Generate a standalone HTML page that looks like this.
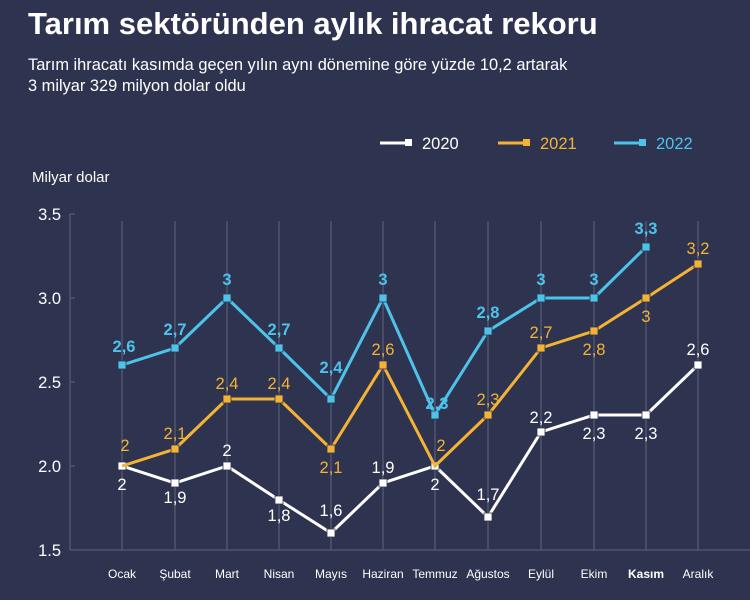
<!DOCTYPE html>
<html><head><meta charset="utf-8"><style>
body{margin:0;background:#2e3450;}
svg{display:block;font-family:"Liberation Sans",sans-serif;}
</style></head><body>
<svg width="750" height="600" xmlns="http://www.w3.org/2000/svg">
<rect width="750" height="600" fill="#2e3450"/>
<text x="28" y="34" fill="#fff" font-size="31" font-weight="bold">Tarım sektöründen aylık ihracat rekoru</text>
<text x="28" y="70" fill="#fff" font-size="16.4">Tarım ihracatı kasımda geçen yılın aynı dönemine göre yüzde 10,2 artarak</text>
<text x="28" y="91" fill="#fff" font-size="16.4">3 milyar 329 milyon dolar oldu</text>
<g font-size="16.5">
<line x1="380" y1="143" x2="406" y2="143" stroke="#fff" stroke-width="3"/><rect x="405" y="139" width="7" height="7" fill="#fff"/><text x="422" y="149" fill="#fff">2020</text>
<line x1="498" y1="143" x2="524" y2="143" stroke="#f5b335" stroke-width="3"/><rect x="523" y="139" width="7" height="7" fill="#f5b335"/><text x="540" y="149" fill="#f5b335">2021</text>
<line x1="614" y1="143" x2="640" y2="143" stroke="#4ec3ea" stroke-width="3"/><rect x="639" y="139" width="7" height="7" fill="#4ec3ea"/><text x="656" y="149" fill="#4ec3ea">2022</text>
</g>
<text x="32" y="182" fill="#fff" font-size="15">Milyar dolar</text>
<g stroke="#555b73" stroke-width="1.3">
<line x1="70" y1="214" x2="70" y2="550"/>
<line x1="70" y1="214" x2="75" y2="214"/><line x1="70" y1="298" x2="75" y2="298"/><line x1="70" y1="382" x2="75" y2="382"/><line x1="70" y1="466" x2="75" y2="466"/>
<line x1="70" y1="550" x2="750" y2="550"/>
<line x1="122" y1="221" x2="122" y2="550"/><line x1="175" y1="221" x2="175" y2="550"/><line x1="227" y1="221" x2="227" y2="550"/><line x1="279" y1="221" x2="279" y2="550"/><line x1="331" y1="221" x2="331" y2="550"/><line x1="383" y1="221" x2="383" y2="550"/><line x1="435" y1="221" x2="435" y2="550"/><line x1="488" y1="221" x2="488" y2="550"/><line x1="541" y1="221" x2="541" y2="550"/><line x1="594" y1="221" x2="594" y2="550"/><line x1="646" y1="221" x2="646" y2="550"/><line x1="698" y1="221" x2="698" y2="550"/>
</g>
<g fill="#fff" font-size="16.5" text-anchor="end">
<text x="61" y="220">3.5</text><text x="61" y="304">3.0</text><text x="61" y="388">2.5</text><text x="61" y="472">2.0</text><text x="61" y="556">1.5</text>
</g>
<g fill="#fff" font-size="12" text-anchor="middle">
<text x="122" y="578">Ocak</text><text x="175" y="578">Şubat</text><text x="227" y="578">Mart</text><text x="279" y="578">Nisan</text><text x="331" y="578">Mayıs</text><text x="383" y="578">Haziran</text><text x="435" y="578">Temmuz</text><text x="488" y="578">Ağustos</text><text x="541" y="578">Eylül</text><text x="594" y="578">Ekim</text><text x="646" y="578" font-weight="bold">Kasım</text><text x="698" y="578">Aralık</text>
</g>
<!-- 2020 -->
<polyline fill="none" stroke="#fff" stroke-width="3" points="122,466 175,483 227,466 279,500 331,533 383,483 435,466 488,517 541,432 594,415 646,415 698,365"/>
<g fill="#fff" stroke="#2e3450" stroke-width="0.8">
<rect x="118" y="462" width="8" height="8"/><rect x="171" y="479" width="8" height="8"/><rect x="223" y="462" width="8" height="8"/><rect x="275" y="496" width="8" height="8"/><rect x="327" y="529" width="8" height="8"/><rect x="379" y="479" width="8" height="8"/><rect x="431" y="462" width="8" height="8"/><rect x="484" y="513" width="8" height="8"/><rect x="537" y="428" width="8" height="8"/><rect x="590" y="411" width="8" height="8"/><rect x="642" y="411" width="8" height="8"/><rect x="694" y="361" width="8" height="8"/>
</g>
<g fill="#fff" font-size="16.5" text-anchor="middle">
<text x="122" y="490">2</text><text x="175" y="503">1,9</text><text x="227" y="456">2</text><text x="279" y="521">1,8</text><text x="331" y="516">1,6</text><text x="383" y="473">1,9</text><text x="435" y="490">2</text><text x="488" y="500">1,7</text><text x="541" y="423">2,2</text><text x="594" y="439">2,3</text><text x="646" y="439">2,3</text><text x="698" y="355">2,6</text>
</g>
<!-- 2021 -->
<polyline fill="none" stroke="#f5b335" stroke-width="3" points="122,466 175,449 227,399 279,399 331,449 383,365 435,466 488,415 541,348 594,331 646,298 698,264"/>
<g fill="#f5b335" stroke="#2e3450" stroke-width="0.8">
<rect x="171" y="445" width="8" height="8"/><rect x="223" y="395" width="8" height="8"/><rect x="275" y="395" width="8" height="8"/><rect x="327" y="445" width="8" height="8"/><rect x="379" y="361" width="8" height="8"/><rect x="484" y="411" width="8" height="8"/><rect x="537" y="344" width="8" height="8"/><rect x="590" y="327" width="8" height="8"/><rect x="642" y="294" width="8" height="8"/><rect x="694" y="260" width="8" height="8"/>
</g>
<g fill="#f5b335" font-size="16.5" text-anchor="middle">
<text x="125" y="451">2</text><text x="175" y="439">2,1</text><text x="227" y="389">2,4</text><text x="279" y="389">2,4</text><text x="331" y="473">2,1</text><text x="383" y="355">2,6</text><text x="441" y="451">2</text><text x="488" y="405">2,3</text><text x="541" y="338">2,7</text><text x="594" y="355">2,8</text><text x="646" y="322">3</text><text x="698" y="254">3,2</text>
</g>
<!-- 2022 -->
<polyline fill="none" stroke="#4ec3ea" stroke-width="3" points="122,365 175,348 227,298 279,348 331,399 383,298 435,415 488,331 541,298 594,298 646,247"/>
<g fill="#4ec3ea" stroke="#2e3450" stroke-width="0.8">
<rect x="118" y="361" width="8" height="8"/><rect x="171" y="344" width="8" height="8"/><rect x="223" y="294" width="8" height="8"/><rect x="275" y="344" width="8" height="8"/><rect x="327" y="395" width="8" height="8"/><rect x="379" y="294" width="8" height="8"/><rect x="431" y="411" width="8" height="8"/><rect x="484" y="327" width="8" height="8"/><rect x="537" y="294" width="8" height="8"/><rect x="590" y="294" width="8" height="8"/><rect x="642" y="243" width="8" height="8"/>
</g>
<g fill="#4ec3ea" font-size="16.5" font-weight="bold" text-anchor="middle">
<text x="124" y="352">2,6</text><text x="175" y="335">2,7</text><text x="227" y="285">3</text><text x="279" y="335">2,7</text><text x="331" y="373">2,4</text><text x="383" y="285">3</text><text x="437" y="409">2,3</text><text x="488" y="318">2,8</text><text x="541" y="285">3</text><text x="594" y="285">3</text><text x="646" y="234">3,3</text>
</g>
</svg>
</body></html>
